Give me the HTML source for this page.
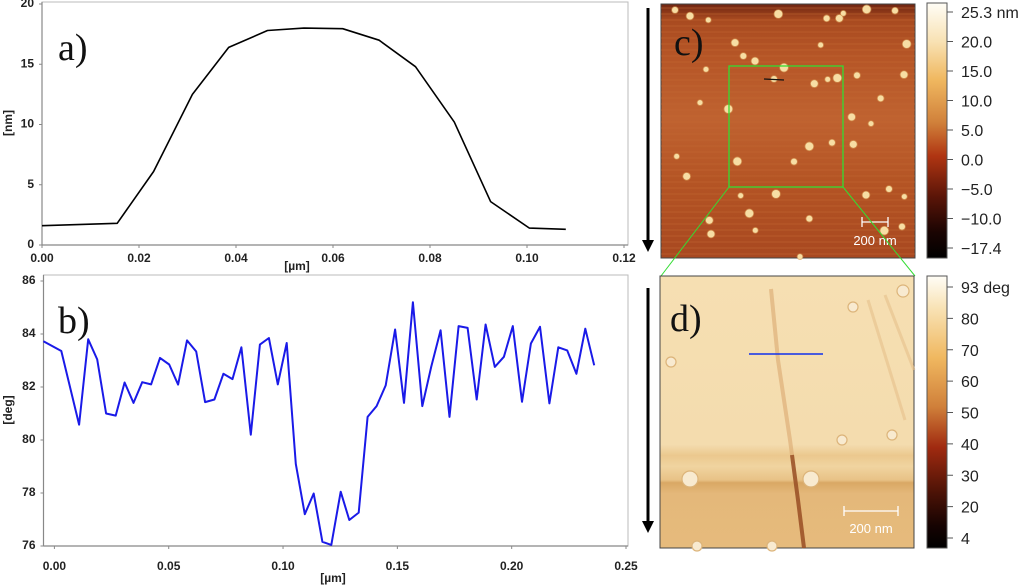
<!DOCTYPE html>
<html><head><meta charset="utf-8"><style>
html,body{margin:0;padding:0;background:#fff;width:1024px;height:586px;overflow:hidden}
svg{display:block}
text{font-family:"Liberation Sans",Arial,sans-serif}
.tk{font-size:12px;font-weight:bold;fill:#222}
.pl{font-family:"Liberation Serif",serif;font-size:38px;fill:#111}
.cb{font-size:16px;fill:#222}
</style></head><body>
<svg id="fig" width="1024" height="586" viewBox="0 0 1024 586" xmlns="http://www.w3.org/2000/svg">
<defs>
<linearGradient id="gc" x1="0" y1="0" x2="0" y2="1">
<stop offset="0" stop-color="#6e2410"/><stop offset="0.06" stop-color="#a84a20"/><stop offset="0.2" stop-color="#b55526"/>
<stop offset="0.45" stop-color="#bf6230"/><stop offset="0.7" stop-color="#b45424"/><stop offset="1" stop-color="#a84820"/></linearGradient>
<linearGradient id="cbc" x1="0" y1="0" x2="0" y2="1">
<stop offset="0" stop-color="#fffdf6"/><stop offset="0.15" stop-color="#f8e2b4"/><stop offset="0.3" stop-color="#f0b860"/>
<stop offset="0.47" stop-color="#d0803a"/><stop offset="0.6" stop-color="#b03512"/><stop offset="0.76" stop-color="#5a1508"/>
<stop offset="0.9" stop-color="#1a0402"/><stop offset="1" stop-color="#000"/></linearGradient>
<linearGradient id="cbd" x1="0" y1="0" x2="0" y2="1">
<stop offset="0" stop-color="#fffdf6"/><stop offset="0.12" stop-color="#f8e2b4"/><stop offset="0.3" stop-color="#f0b860"/>
<stop offset="0.48" stop-color="#d0803a"/><stop offset="0.63" stop-color="#a02a10"/><stop offset="0.8" stop-color="#4a1206"/>
<stop offset="0.92" stop-color="#150302"/><stop offset="1" stop-color="#000"/></linearGradient>
<linearGradient id="gd" x1="0" y1="0" x2="0" y2="1">
<stop offset="0" stop-color="#f6dfb2"/><stop offset="0.62" stop-color="#f4dcae"/><stop offset="0.66" stop-color="#ebc88e"/>
<stop offset="0.7" stop-color="#f0d4a0"/><stop offset="0.75" stop-color="#e8c286"/><stop offset="0.76" stop-color="#d9a865"/>
<stop offset="0.8" stop-color="#e4b87a"/><stop offset="1" stop-color="#e6bb7c"/></linearGradient>
</defs>
<g id="chartA"></g>
<g id="chartB"></g>

<g>
<rect x="661" y="4" width="254" height="254" fill="url(#gc)" stroke="#444" stroke-width="1"/>
<g id="stripes"></g>
<g id="particles"></g>
<line x1="764" y1="79" x2="784" y2="80" stroke="#111" stroke-width="1.2"/>
<rect x="729" y="66" width="114" height="121" fill="none" stroke="#33dd33" stroke-width="1.3"/>
<g stroke="#fff" stroke-width="1.3"><line x1="862" y1="222" x2="888" y2="222"/><line x1="862" y1="217" x2="862" y2="227"/><line x1="888" y1="217" x2="888" y2="227"/></g>
<text x="875" y="245" font-size="13" fill="#fff" text-anchor="middle">200 nm</text>
<text x="674" y="55" class="pl">c)</text>
</g>
<line x1="729" y1="187" x2="661" y2="276" stroke="#33dd33" stroke-width="1"/>
<line x1="843" y1="187" x2="915" y2="276" stroke="#33dd33" stroke-width="1"/>
<g><line x1="648" y1="8" x2="648" y2="240" stroke="#000" stroke-width="3"/><polygon points="642,240 654,240 648,252" fill="#000"/></g>

<g id="cbC">
<rect x="927" y="3" width="20" height="255" fill="url(#cbc)" stroke="#555" stroke-width="1"/>
</g>

<g>
<rect x="660" y="276" width="254" height="272" fill="url(#gd)" stroke="#444" stroke-width="1"/>
<path d="M771 289 L778 360 L790 440 L798 500 L804 548" stroke="#dba870" stroke-width="4" fill="none" opacity="0.6"/>
<path d="M792 455 L798 500 L804 548" stroke="#8a3a14" stroke-width="4" fill="none" opacity="0.7"/>
<path d="M868 300 L905 420" stroke="#e6c08a" stroke-width="3" fill="none" opacity="0.6"/>
<path d="M885 295 L914 370" stroke="#e6c08a" stroke-width="3" fill="none" opacity="0.6"/>
<g fill="#f8ead0" stroke="#dcb47a" stroke-width="1.2">
<circle cx="690" cy="479" r="8"/><circle cx="811" cy="479" r="8"/><circle cx="842" cy="440" r="5"/><circle cx="892" cy="435" r="5"/>
<circle cx="671" cy="362" r="5"/><circle cx="853" cy="307" r="5"/><circle cx="903" cy="291" r="6"/><circle cx="697" cy="546" r="5"/><circle cx="772" cy="546" r="5"/></g>
<line x1="749" y1="354" x2="823" y2="354" stroke="#1030ee" stroke-width="1.6"/>
<g stroke="#fff" stroke-width="1.3"><line x1="844" y1="511" x2="898" y2="511"/><line x1="844" y1="506" x2="844" y2="516"/><line x1="898" y1="506" x2="898" y2="516"/></g>
<text x="871" y="533" font-size="13" fill="#fff" text-anchor="middle">200 nm</text>
<text x="670" y="331" class="pl">d)</text>
</g>
<g><line x1="648" y1="288" x2="648" y2="522" stroke="#000" stroke-width="3"/><polygon points="642,521 654,521 648,533" fill="#000"/></g>

<g id="cbD">
<rect x="927" y="276" width="20" height="272" fill="url(#cbd)" stroke="#555" stroke-width="1"/>
</g>
</svg>
<script>
const NS="http://www.w3.org/2000/svg";
const aX=[0,0.0155,0.023,0.031,0.0385,0.0465,0.054,0.062,0.0695,0.077,0.085,0.0925,0.1005,0.108];
const aY=[1.6,1.8,6.1,12.5,16.4,17.8,18.0,17.95,17.0,14.8,10.2,3.6,1.4,1.3];
const aXTicks=["0.00","0.02","0.04","0.06","0.08","0.10","0.12"];
const aYTicks=["0","5","10","15","20"];
const bX=[-0.0048,0.003,0.0108,0.0148,0.0187,0.0226,0.0268,0.0307,0.0346,0.0384,0.0423,0.0462,0.0502,0.0541,0.058,0.062,0.0659,0.07,0.0739,0.0779,0.0818,0.0859,0.0899,0.0938,0.0977,0.1016,0.1056,0.1095,0.1134,0.1172,0.1211,0.1252,0.129,0.1331,0.137,0.1409,0.1449,0.149,0.1529,0.1568,0.1609,0.1648,0.1689,0.1728,0.1768,0.1807,0.1847,0.1886,0.1926,0.1966,0.2005,0.2045,0.2084,0.2124,0.2165,0.2204,0.2243,0.2283,0.2322,0.2361];
const bY=[83.73,83.36,80.58,83.8,83.04,81.0,80.92,82.17,81.4,82.18,82.1,83.1,82.85,82.09,83.76,83.34,81.43,81.53,82.5,82.3,83.5,80.2,83.6,83.85,82.1,83.66,79.1,77.2,77.98,76.16,76.04,78.05,76.98,77.26,80.87,81.28,82.06,84.17,81.4,85.2,81.28,82.76,84.14,80.87,84.3,84.23,81.53,84.36,82.76,83.14,84.3,81.44,83.64,84.27,81.38,83.5,83.38,82.5,84.2,82.82];
const bXTicks=["0.00","0.05","0.10","0.15","0.20","0.25"];
const bYTicks=["76","78","80","82","84","86"];
const cLabels=["25.3 nm","20.0","15.0","10.0","5.0","0.0","\u22125.0","\u221210.0","\u221217.4"];
const dLabels=["93 deg","80","70","60","50","40","30","20","4"];

function el(tag,attrs,parent){const e=document.createElementNS(NS,tag);for(const k in attrs)e.setAttribute(k,attrs[k]);parent.appendChild(e);return e;}

function chart(g,cfg){
  const sx=v=>cfg.x0+(v-cfg.xmin)/(cfg.xmax-cfg.xmin)*(cfg.x1-cfg.x0);
  const sy=v=>cfg.y0+(v-cfg.ymin)/(cfg.ymax-cfg.ymin)*(cfg.y1-cfg.y0);
  const fr=el('rect',{x:cfg.left,y:cfg.top,width:cfg.right-cfg.left,height:cfg.y0-cfg.top,fill:'none',stroke:'#bbb','stroke-width':1},g);
  
  
  el('line',{x1:cfg.left,y1:cfg.top,x2:cfg.left,y2:cfg.y0,stroke:'#888','stroke-width':1.2},g);
  el('line',{x1:cfg.left,y1:cfg.y0,x2:cfg.right,y2:cfg.y0,stroke:'#888','stroke-width':1.2},g);
  cfg.xt.forEach(t=>{const x=sx(parseFloat(t));
    el('line',{x1:x,y1:cfg.y0,x2:x,y2:cfg.y0+3,stroke:'#888'},g);
    const tx=el('text',{x:x,y:cfg.y0+cfg.xlo,class:'tk','text-anchor':'middle'},g);tx.textContent=t;
    
    });
  cfg.yt.forEach(t=>{const y=sy(parseFloat(t));
    el('line',{x1:cfg.left-3,y1:y,x2:cfg.left,y2:y,stroke:'#888'},g);
    const tx=el('text',{x:cfg.left-8,y:y+3,class:'tk','text-anchor':'end'},g);tx.textContent=t;
    
    });
  const pts=cfg.xs.map((v,i)=>sx(v).toFixed(1)+','+sy(cfg.ys[i]).toFixed(1)).join(' ');
  const pl=el('polyline',{points:pts,fill:'none',stroke:cfg.color,'stroke-width':cfg.sw,'stroke-linejoin':'round'},g);
  
  
  const xl=el('text',{x:cfg.xlx,y:cfg.xly,class:'tk','text-anchor':'middle'},g);xl.textContent='[\u00b5m]';
  
  
  const yl=el('text',{x:0,y:0,class:'tk','text-anchor':'middle',transform:`translate(12,${cfg.yly}) rotate(-90)`},g);yl.textContent=cfg.ylab;
  
  
  const pn=el('text',{x:58,y:cfg.top+58,class:'pl'},g);pn.textContent=cfg.panel;
  
  
}
chart(document.getElementById('chartA'),{xmin:0,xmax:0.12,x0:42,x1:624,ymin:0,ymax:20,y0:245,y1:4,left:42,right:628,top:2,
  xt:aXTicks,yt:aYTicks,xs:aX,ys:aY,color:'#000',sw:1.6,xlo:17,xlx:297,xly:270,ylab:'[nm]',yly:123,panel:'a)'});
chart(document.getElementById('chartB'),{xmin:0,xmax:0.25,x0:54.4,x1:626,ymin:76,ymax:86,y0:546,y1:281,left:43.5,right:628,top:275,
  xt:bXTicks,yt:bYTicks,xs:bX,ys:bY,color:'#1a1ae8',sw:2,xlo:24,xlx:333,xly:582,ylab:'[deg]',yly:410,panel:'b)'});

function cbar(id,labels,yTop,yBot){const g=document.getElementById(id);
  labels.forEach((t,i)=>{const y=yTop+i*(yBot-yTop)/(labels.length-1);
    el('line',{x1:947,y1:y,x2:953,y2:y,stroke:'#555'},g);
    const tx=el('text',{x:961,y:y+6,class:'cb'},g);tx.textContent=t;
    
    });}
cbar('cbC',cLabels,12,248);
cbar('cbD',dLabels,287,538);

const st=document.getElementById('stripes');
for(let y=8;y<256;y+=6){el('line',{x1:661,y1:y,x2:915,y2:y,stroke:(y%12?'#c56a35':'#9e4218'),'stroke-width':1.5,opacity:0.35},st);}
const pz=[[135,30],[180,48],[235,60],[445,42],[590,55],[628,55],[640,40],[710,28],[795,32],[315,128],[572,135],[830,132],[340,168],[375,183],[228,208],[462,203],[432,237],[553,251],[593,238],[622,234],[681,226],[822,224],[210,308],[295,327],[752,295],[665,351],[723,371],[538,439],[606,428],[670,433],[140,469],[322,484],[492,485],[170,529],[332,587],[438,582],[777,567],[708,585],[823,590],[358,640],[538,656],[238,661],[376,691],[763,692],[816,680],[243,702],[510,770]];
const pg=document.getElementById('particles');
pz.forEach((p,i)=>{const r=[3,3.5,2.5,4][i%4];
  el('circle',{cx:630+p[0]/3,cy:p[1]/3,r:r+0.8,fill:'#d99a55',opacity:0.7},pg);
  el('circle',{cx:630+p[0]/3,cy:p[1]/3,r:r,fill:'#f7dea4'},pg);});
</script>
</body></html>
